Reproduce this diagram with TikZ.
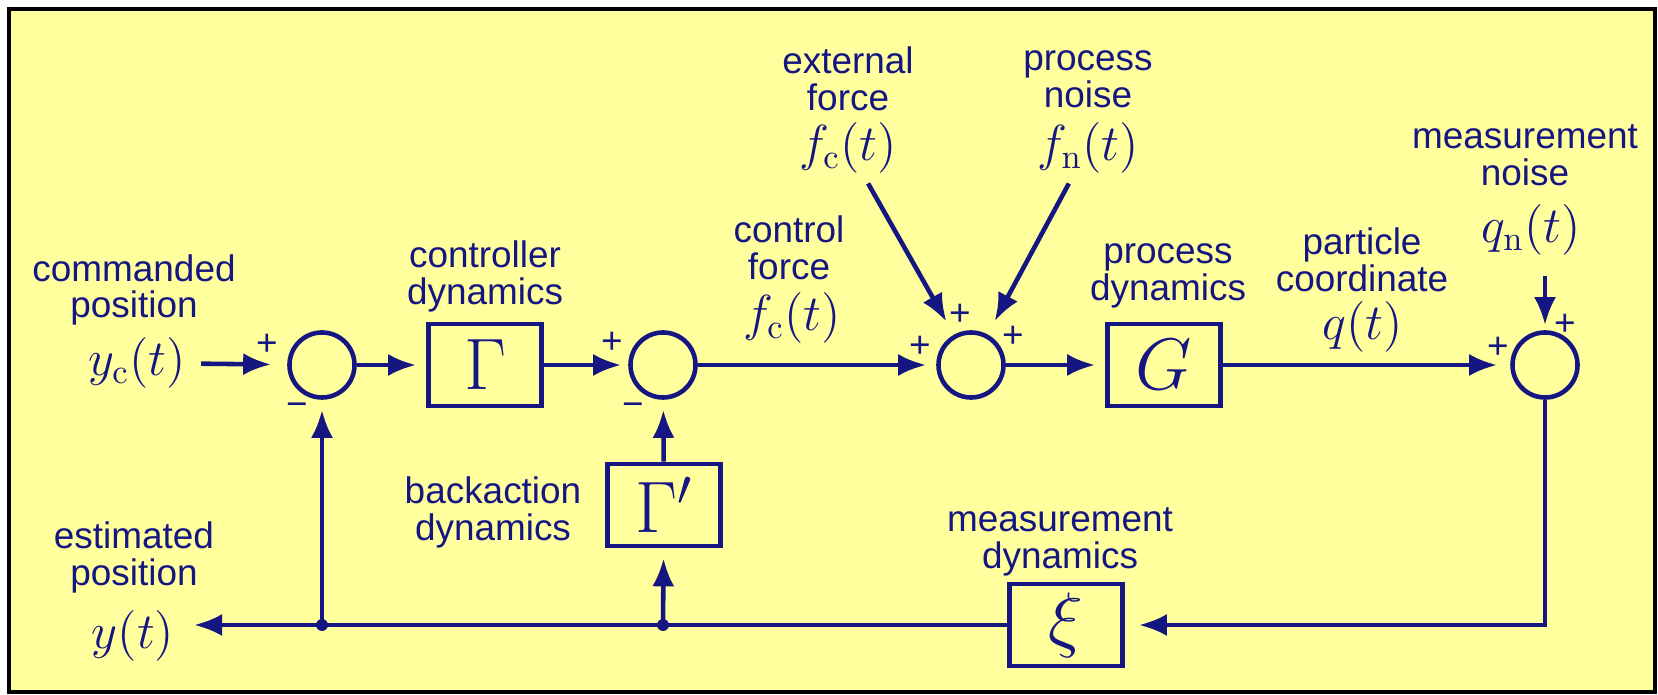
\documentclass[tikz,border=0pt]{standalone}
\usepackage{fontspec}
\setsansfont{Liberation Sans}
\usetikzlibrary{arrows.meta}

\definecolor{paper}{RGB}{255,255,158}
\definecolor{ink}{RGB}{22,22,130}

\tikzset{
  sum/.style={circle, draw, minimum size=0.65cm, inner sep=0pt},
  blk/.style={draw, minimum width=1.13cm, minimum height=0.82cm, inner sep=0pt, font=\fontsize{20}{20}\selectfont},
  txt/.style={align=center, inner sep=0pt, font=\sffamily\fontsize{10.5}{10.5}\selectfont},
  sig/.style={inner sep=0pt, font=\sffamily\fontsize{10.5}{10.5}\selectfont},
  var/.style={inner sep=0pt, font=\fontsize{14}{14}\selectfont},
  arr/.style={-{Latex[length=0.28cm,width=0.22cm]}, shorten >=0.1cm},
}

\begin{document}
\begin{tikzpicture}[x=0.01cm, y=-0.01cm, line width=1.3pt, color=ink]
	\useasboundingbox (0,0) rectangle (1658,695);
	\fill[white] (0,0) rectangle (1658,695);
	\draw[black, line width=1.2pt, fill=paper] (9,9) rectangle (1655,692);

	% forward path
	\node[var] (yc) at (137,363) {$y_\mathrm{c}(t)$};
	\node[sum] (s1) at (322,365) {};
	\node[blk] (gam) at (485,365) {$\Gamma$};
	\node[sum] (s2) at (663,365) {};
	\node[sum] (s3) at (971,365) {};
	\node[blk] (proc) at (1164,365) {$G$};
	\node[sum] (s4) at (1545,365) {};

	% feedback path
	\node[blk] (back) at (664,505) {$\Gamma'$};
	\node[blk] (meas) at (1066,625) {$\xi$};
	\node[var] (yout) at (133,636) {$y(t)$};
	\coordinate (j1) at (s1 |- meas);
	\coordinate (j2) at (s2 |- meas);
	\coordinate (ytip) at (194,625);

	% signals
	\node[var] (fc) at (792,318) {$f_\mathrm{c}(t)$};
	\node[var] (fe) at (848,148) {$f_\mathrm{c}(t)$};
	\node[var] (fn) at (1088,148) {$f_\mathrm{n}(t)$};
	\node[var] (q) at (1363,327) {$q(t)$};
	\node[var] (qn) at (1531,230) {$q_\mathrm{n}(t)$};

	% captions
	\node[txt] (cmd) at (134,290) {commanded\\position};
	\node[txt] (ctrl) at (485,276) {controller\\dynamics};
	\node[txt] (cf) at (789,248) {control\\force};
	\node[txt] (ext) at (848,79) {external\\force};
	\node[txt] (pn) at (1088,79) {process\\noise};
	\node[txt] (pd) at (1168,276) {process\\dynamics};
	\node[txt] (pc) at (1362,260) {particle\\coordinate};
	\node[txt] (mn) at (1525,155) {measurement\\noise};
	\node[txt] (est) at (134,557) {estimated\\position};
	\node[txt] (bd) at (493,512) {backaction\\dynamics};
	\node[txt] (md) at (1060,542) {measurement\\dynamics};

	% signs at the summing junctions
	\node[sig] (s1p) at (267,345) {+};
	\node[sig] (s1m) at (297,410) {−};
	\node[sig] (s2p) at (612,343) {+};
	\node[sig] (s2m) at (633,410) {−};
	\node[sig] (s3t) at (960,315) {+};
	\node[sig] (s3l) at (920,347) {+};
	\node[sig] (s3r) at (1013,337) {+};
	\node[sig] (s4t) at (1565,325) {+};
	\node[sig] (s4l) at (1498,348) {+};

	% connectors
	\draw[arr, shorten <=0.13cm, shorten >=0.16cm] (yc) -- (s1);
	\draw[arr] (s1) -- (gam);
	\draw[arr, shorten >=0.07cm] (gam) -- (s2);
	\draw[arr] (s2) -- (s3);
	\draw[arr] (s3) -- (proc);
	\draw[arr, shorten >=0.13cm] (proc) -- (s4);
	\draw[arr, shorten <=0.09cm, shorten >=0.15cm] (fe) -- (s3);
	\draw[arr, shorten <=0.09cm, shorten >=0.15cm] (fn) -- (s3);
	\draw[arr, shorten <=0.18cm, shorten >=0.05cm] (s4 |- qn.south) -- (s4);
	\draw[arr, shorten >=0.14cm] (s4) |- (meas);
	\draw[arr, shorten >=0pt] (meas) -- (ytip);
	\draw[arr] (j1) -- (s1);
	\draw[arr] (j2) -- (back);
	\draw[arr] (back) -- (s2);
	\fill (j1) circle (1.7pt);
	\fill (j2) circle (1.7pt);
\end{tikzpicture}
\end{document}
